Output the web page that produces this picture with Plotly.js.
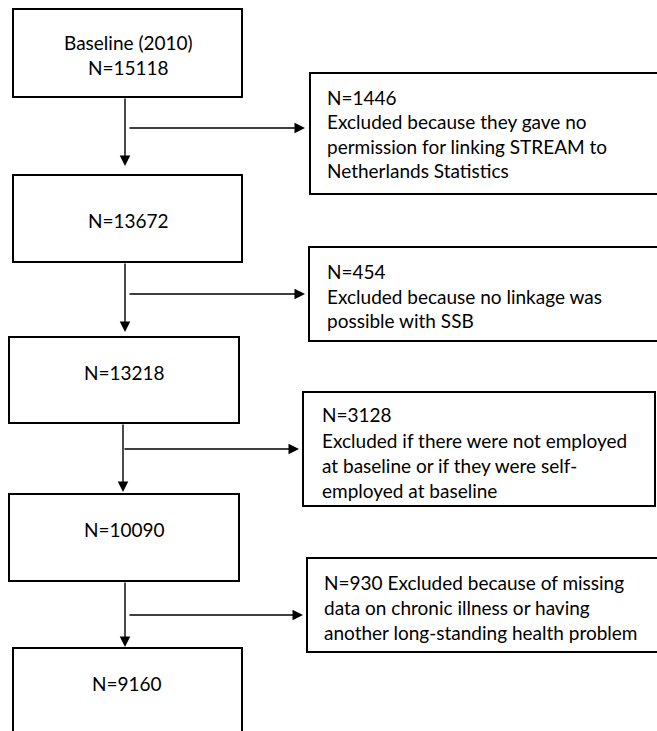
<!DOCTYPE html>
<html>
<head>
<meta charset="utf-8">
<script src="https://cdn.plot.ly/plotly-3.0.1.min.js"></script>
<style>html,body{margin:0;padding:0;background:#fff;}#chart{width:657px;height:731px;}</style>
</head>
<body>
<div id="chart"></div>
<script>
// ---- data ----
const stageTitles = ['Baseline (2010)', '', '', '', ''];
const stageCounts = [15118, 13672, 13218, 10090, 9160];
const exclusionCounts = [1446, 454, 3128, 930];
const exclusionReasons = [
  ['Excluded because they gave no', 'permission for linking STREAM to', 'Netherlands Statistics'],
  ['Excluded because no linkage was', 'possible with SSB'],
  ['Excluded if there were not employed', 'at baseline or if they were self-', 'employed at baseline'],
  ['data on chronic illness or having', 'another long-standing health problem']
];
const exclusionInline = [false, false, false, true]; // N on same line as reason start
const exclusionFirstInline = ['', '', '', 'Excluded because of missing'];

// ---- layout geometry (pixels) ----
const stageBoxes = [[13,242,9,97],[13,242,175,262],[9,239,337,423],[9,239,494,581],[13,242,648,770]];
const stageTextX = [128,128,124,124,127];
const stageTextY = [[42,67],[220],[372],[529],[683]];
const exclBoxes = [[310,680,73,194],[309,680,247,341],[303,655,392,506],[307,680,558,652]];
const exclTextX = [325,325,320,322];
const exclLineY = [[97,121,146,170],[271,296,320],[414,440,465,490],[582,607,632]];
const downArrows = [[125,97,166],[125,262,332],[123,423,492],[125,581,647]];
const sideArrows = [[128,128,305],[294,128,305],[449,123,299],[615,128,303]];

const FONT = {family: 'Lato, "Open Sans", sans-serif', size: 19, color: '#000'};
const shapes = [];
const annotations = [];

stageBoxes.forEach(b => shapes.push({type:'rect', xref:'x', yref:'y', x0:b[0], x1:b[1], y0:b[2], y1:b[3], line:{color:'#000', width:2}, fillcolor:'rgba(0,0,0,0)'}));
exclBoxes.forEach(b => shapes.push({type:'rect', xref:'x', yref:'y', x0:b[0], x1:b[1], y0:b[2], y1:b[3], line:{color:'#000', width:2}, fillcolor:'rgba(0,0,0,0)'}));

stageCounts.forEach((n, i) => {
  const lines = [];
  if (stageTitles[i]) lines.push(stageTitles[i]);
  lines.push('N=' + n);
  lines.forEach((t, j) => annotations.push({x: stageTextX[i], y: stageTextY[i][j], xref:'x', yref:'y', text: t, showarrow:false, xanchor:'center', yanchor:'middle', font: FONT}));
});

exclusionCounts.forEach((n, i) => {
  const lines = [];
  if (exclusionInline[i]) lines.push('N=' + n + ' ' + exclusionFirstInline[i]);
  else lines.push('N=' + n);
  exclusionReasons[i].forEach(l => lines.push(l));
  lines.forEach((t, j) => annotations.push({x: exclTextX[i], y: exclLineY[i][j], xref:'x', yref:'y', text: t, showarrow:false, xanchor:'left', yanchor:'middle', font: FONT}));
});

downArrows.forEach(a => annotations.push({x:a[0], y:a[2], ax:a[0], ay:a[1], xref:'x', yref:'y', axref:'x', ayref:'y', text:'', showarrow:true, arrowhead:2, arrowsize:1.5, arrowwidth:1.4, arrowcolor:'#000', standoff:0, startstandoff:0}));
sideArrows.forEach(a => annotations.push({x:a[2], y:a[0], ax:a[1], ay:a[0], xref:'x', yref:'y', axref:'x', ayref:'y', text:'', showarrow:true, arrowhead:2, arrowsize:1.5, arrowwidth:1.4, arrowcolor:'#000', standoff:0, startstandoff:0}));

const layout = {
  width: 657, height: 731,
  margin: {l:0, r:0, t:0, b:0},
  paper_bgcolor: '#fff', plot_bgcolor: '#fff',
  xaxis: {range:[0,657], visible:false, fixedrange:true},
  yaxis: {range:[731,0], visible:false, fixedrange:true},
  showlegend: false,
  shapes: shapes,
  annotations: annotations
};
Plotly.newPlot('chart', [], layout, {staticPlot:true, displayModeBar:false});
</script>
</body>
</html>
